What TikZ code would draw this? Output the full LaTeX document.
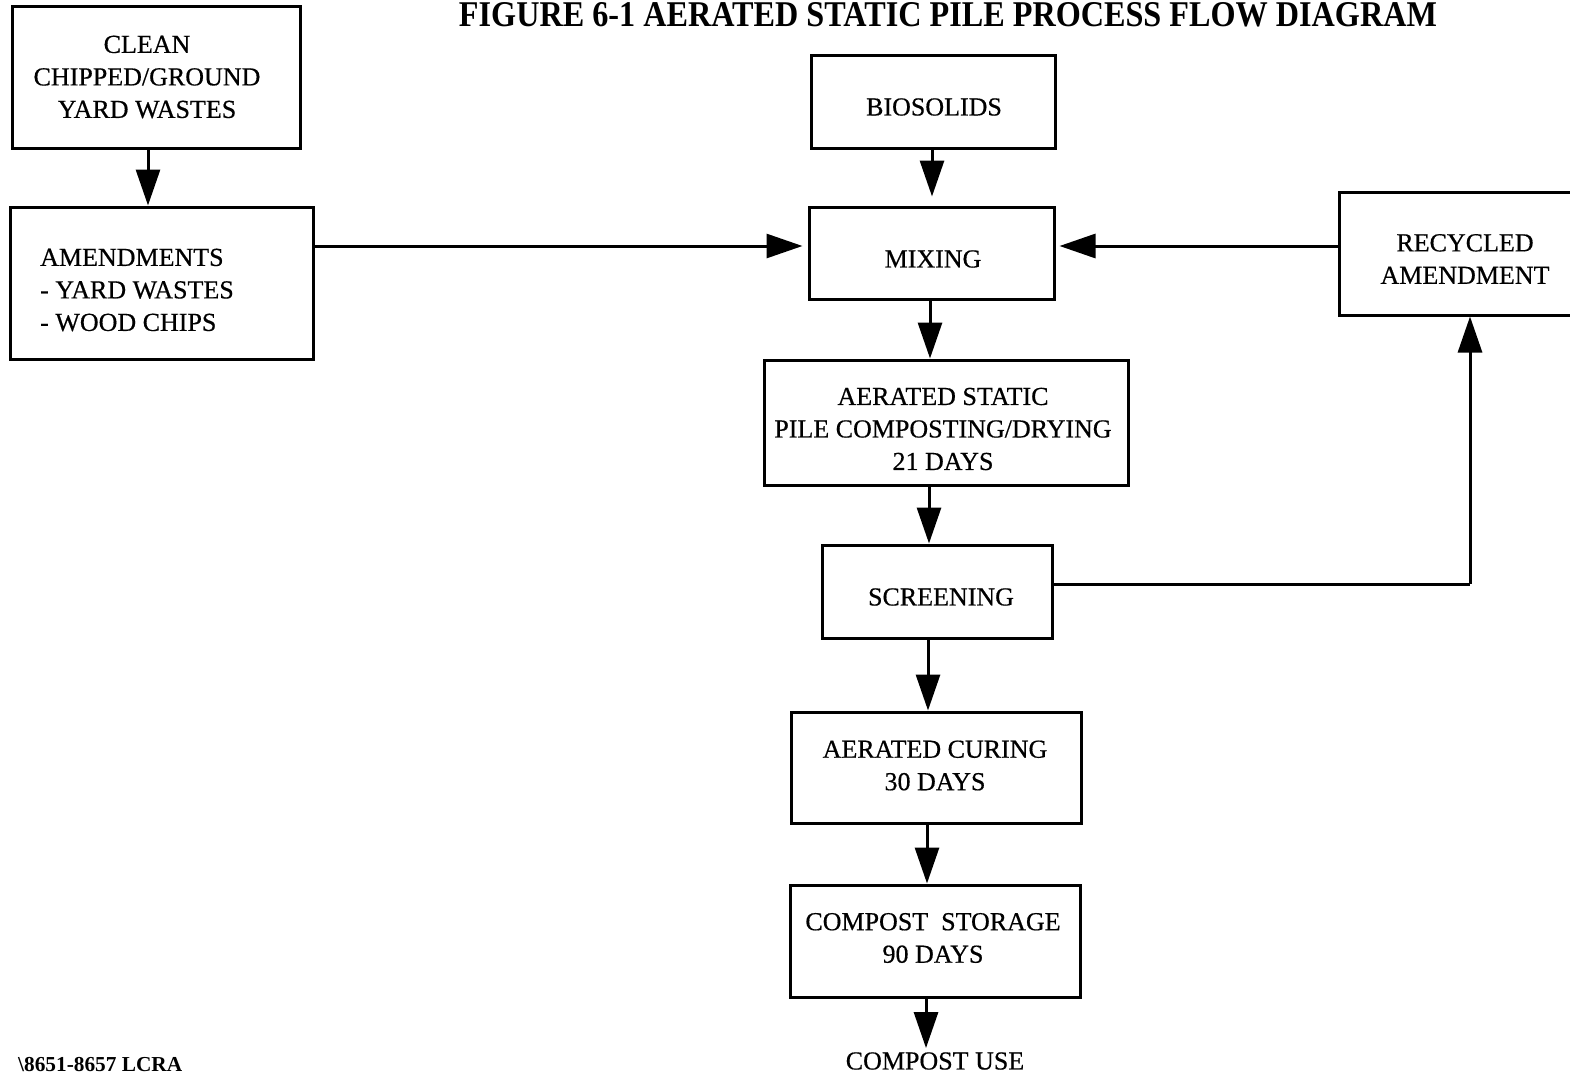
\documentclass[tikz,border=0pt]{standalone}
\usepackage{fontspec}
\setmainfont{Liberation Serif}
\newfontfamily\boxfont{Liberation Serif}[FakeBold=0.5]
\usepackage{graphicx}
\usetikzlibrary{arrows.meta}
\tikzset{
  procbox/.style={draw, line width=3pt, inner sep=0pt},
  boxtext/.style={align=center, inner sep=0pt,
    font=\boxfont\fontsize{26}{32.5}\selectfont},
  arr/.style={line width=3pt, -{Triangle[length=36pt,width=24pt]}},
  plain/.style={line width=3pt}
}
\begin{document}
\begin{tikzpicture}[x=1pt,y=-1pt]
\useasboundingbox (0,0) rectangle (1570,1076);
\fill[white] (0,0) rectangle (1570,1076);

\node (title) at (948,15) {\resizebox{978pt}{24pt}{\bfseries FIGURE 6-1 AERATED STATIC PILE PROCESS FLOW DIAGRAM}};

% boxes
\node[procbox, minimum width=288pt, minimum height=142pt] (clean) at (156,77) {};
\node[procbox, minimum width=303pt, minimum height=152pt] (amend) at (161.5,283) {};
\node[procbox, minimum width=244pt, minimum height=93pt] (bio) at (933,101.5) {};
\node[procbox, minimum width=245pt, minimum height=92pt] (mix) at (931.5,253) {};
\node[procbox, minimum width=251pt, minimum height=123pt] (rec) at (1464.5,253.5) {};
\node[procbox, minimum width=364pt, minimum height=125pt] (ast) at (946,422.5) {};
\node[procbox, minimum width=230pt, minimum height=93pt] (scr) at (937,591.5) {};
\node[procbox, minimum width=290pt, minimum height=111pt] (cur) at (936,767.5) {};
\node[procbox, minimum width=290pt, minimum height=112pt] (sto) at (935,941) {};

% texts
\node[boxtext] (clean-t) at (147,77) {CLEAN\\CHIPPED/GROUND\\YARD WASTES};
\node[boxtext, align=left, anchor=west] (amend-t) at (40,290) {AMENDMENTS\\- YARD WASTES\\- WOOD CHIPS};
\node[boxtext] (bio-t) at (934,107) {BIOSOLIDS};
\node[boxtext] (mix-t) at (933,259) {MIXING};
\node[boxtext] (rec-t) at (1465,259) {RECYCLED\\AMENDMENT};
\node[boxtext] (ast-t) at (943,429) {AERATED STATIC\\PILE COMPOSTING/DRYING\\21 DAYS};
\node[boxtext] (scr-t) at (941,597) {SCREENING};
\node[boxtext] (cur-t) at (935,765.5) {AERATED CURING\\30 DAYS};
\node[boxtext] (sto-t) at (933,938) {COMPOST\ \ STORAGE\\90 DAYS};
\node[boxtext] (use) at (935,1061) {COMPOST USE};

\node[anchor=base west, inner sep=0pt] (ref) at (18,1071) {\resizebox{164pt}{!}{\bfseries\textbackslash 8651-8657 LCRA}};

\coordinate (xa) at (148,0);
\coordinate (ya) at (0,246);
\coordinate (xb) at (932,0);
\coordinate (xc) at (930,0);
\coordinate (xd) at (929,0);
\coordinate (xe) at (928,0);
\coordinate (xf) at (927,0);
\coordinate (xg) at (926,0);
\coordinate (xr) at (1470,0);
\coordinate (ys) at (0,584);
\coordinate (corner) at (1470,584);

\draw[arr] (clean.south -| xa) -- (amend.north -| xa);
\draw[arr, shorten >=5pt] (amend.east |- ya) -- (mix.west |- ya);
\draw[arr, shorten >=4pt] (rec.west |- ya) -- (mix.east |- ya);
\draw[arr, shorten >=9pt] (bio.south -| xb) -- (mix.north -| xb);
\draw[arr] (mix.south -| xc) -- (ast.north -| xc);
\draw[arr] (ast.south -| xd) -- (scr.north -| xd);
\draw[arr] (scr.south -| xe) -- (cur.north -| xe);
\draw[arr] (cur.south -| xf) -- (sto.north -| xf);
\draw[arr, shorten >=4pt] (sto.south -| xg) -- (use.north -| xg);
\draw[plain] (scr.east |- ys) -- (corner);
\draw[arr] (corner) -- (rec.south -| xr);
\end{tikzpicture}
\end{document}
